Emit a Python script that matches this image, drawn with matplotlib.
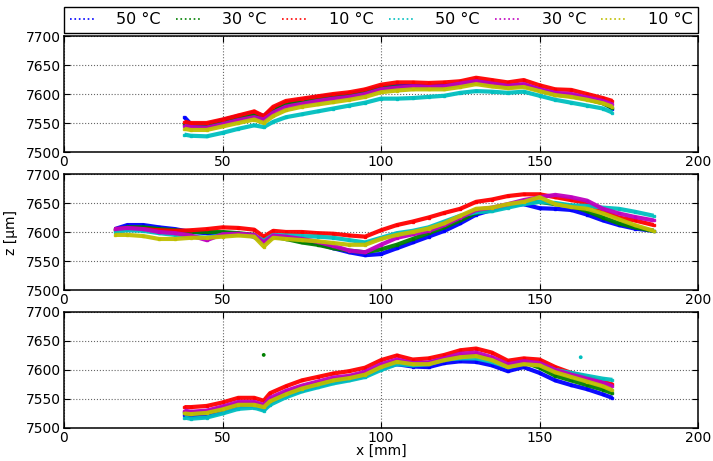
import matplotlib
matplotlib.use("Agg")
import matplotlib.pyplot as plt
from matplotlib.lines import Line2D

# ---------------- data ----------------
labels = ["50 °C", "30 °C", "10 °C", "50 °C", "30 °C", "10 °C"]
colors = ["#0000ff", "#008000", "#ff0000", "#00bfbf", "#bf00bf", "#bfbf00"]

# panel 1 (top)
x1 = [38, 40, 45, 50, 55, 60, 63, 66, 70, 75, 80, 85, 90, 95, 100, 105, 110, 115,
      120, 125, 130, 135, 140, 145, 150, 155, 160, 165, 170, 173]
blue1 = [7560, 7548, 7548, 7555, 7562, 7568, 7562, 7575, 7585, 7590, 7595, 7598, 7600, 7606, 7612,
         7614, 7614, 7614, 7615, 7617, 7622, 7618, 7614, 7616, 7608, 7600, 7598, 7592, 7585, 7575]
green1 = [7548, 7545, 7544, 7552, 7558, 7563, 7558, 7572, 7582, 7586, 7590, 7594, 7597, 7602, 7610,
          7612, 7612, 7611, 7612, 7616, 7620, 7616, 7612, 7614, 7606, 7599, 7596, 7591, 7584, 7576]
red1 = [7552, 7550, 7550, 7556, 7563, 7570, 7562, 7578, 7588, 7592, 7596, 7600, 7603, 7608, 7616,
        7620, 7620, 7619, 7620, 7622, 7628, 7624, 7620, 7624, 7615, 7608, 7607, 7600, 7593, 7588]
cyan1 = [7530, 7528, 7527, 7533, 7540, 7546, 7543, 7552, 7560, 7565, 7570, 7575, 7580, 7585, 7592,
         7592, 7593, 7595, 7597, 7602, 7605, 7604, 7602, 7604, 7597, 7590, 7585, 7580, 7575, 7568]
magenta1 = [7545, 7543, 7542, 7548, 7555, 7560, 7556, 7568, 7578, 7583, 7588, 7592, 7595, 7600, 7608,
            7611, 7613, 7612, 7613, 7618, 7622, 7618, 7614, 7617, 7608, 7602, 7600, 7594, 7588, 7582]
yellow1 = [7540, 7538, 7538, 7544, 7550, 7556, 7550, 7562, 7572, 7578, 7582, 7586, 7590, 7595, 7603,
           7606, 7608, 7608, 7608, 7612, 7617, 7613, 7610, 7612, 7605, 7598, 7595, 7590, 7584, 7578]

# panel 2 (middle)
x2 = [16, 20, 25, 30, 35, 40, 45, 50, 55, 60, 63, 66, 70, 75, 80, 85, 90, 95, 100, 105, 110, 115,
      120, 125, 130, 135, 140, 145, 150, 155, 160, 165, 170, 175, 180, 186]
blue2 = [7605, 7612, 7612, 7608, 7605, 7600, 7598, 7598, 7597, 7592, 7582, 7592, 7590, 7585, 7580, 7572,
         7565, 7560, 7562, 7572, 7582, 7592, 7602, 7615, 7630, 7638, 7645, 7648, 7641, 7640, 7638, 7630,
         7620, 7612, 7606, 7602]
green2 = [7603, 7608, 7608, 7605, 7603, 7600, 7600, 7600, 7598, 7595, 7582, 7592, 7588, 7582, 7578, 7572,
          7568, 7565, 7570, 7578, 7588, 7598, 7608, 7620, 7633, 7640, 7646, 7650, 7652, 7648, 7645, 7636,
          7625, 7615, 7608, 7602]
red2 = [7605, 7606, 7605, 7603, 7602, 7603, 7605, 7608, 7607, 7604, 7592, 7602, 7600, 7600, 7598, 7597,
        7594, 7592, 7603, 7612, 7618, 7625, 7633, 7640, 7652, 7656, 7662, 7665, 7665, 7660, 7655, 7650,
        7635, 7625, 7620, 7612]
cyan2 = [7600, 7603, 7602, 7598, 7595, 7592, 7590, 7595, 7596, 7594, 7585, 7595, 7594, 7593, 7592, 7590,
         7586, 7582, 7590, 7598, 7602, 7608, 7618, 7628, 7634, 7636, 7642, 7648, 7652, 7650, 7646, 7645,
         7642, 7640, 7635, 7628]
magenta2 = [7605, 7607, 7605, 7600, 7598, 7594, 7586, 7596, 7597, 7595, 7582, 7594, 7592, 7588, 7583, 7576,
            7568, 7565, 7578, 7590, 7596, 7602, 7612, 7625, 7638, 7642, 7648, 7655, 7660, 7664, 7660, 7654,
            7640, 7632, 7626, 7620]
yellow2 = [7595, 7595, 7593, 7588, 7588, 7590, 7590, 7592, 7594, 7592, 7575, 7590, 7588, 7586, 7584, 7581,
           7578, 7578, 7588, 7595, 7600, 7606, 7615, 7628, 7640, 7642, 7648, 7652, 7660, 7648, 7643, 7640,
           7632, 7622, 7612, 7602]

# panel 3 (bottom)
x3 = [38, 40, 45, 50, 55, 60, 63, 65, 70, 75, 80, 85, 90, 95, 100, 105, 110, 115,
      120, 125, 130, 135, 140, 145, 150, 155, 160, 165, 170, 173]
blue3 = [7522, 7520, 7520, 7528, 7537, 7538, 7532, 7544, 7556, 7565, 7572, 7579, 7584, 7590, 7603,
         7610, 7606, 7605, 7612, 7615, 7614, 7608, 7598, 7605, 7595, 7582, 7574, 7567, 7558, 7552]
green3 = [7528, 7527, 7528, 7535, 7542, 7542, 7538, 7548, 7560, 7570, 7576, 7583, 7588, 7594, 7606,
          7615, 7612, 7612, 7619, 7624, 7626, 7618, 7607, 7614, 7604, 7590, 7582, 7574, 7566, 7560]
red3 = [7536, 7536, 7538, 7544, 7552, 7552, 7547, 7560, 7572, 7582, 7588, 7594, 7598, 7604, 7617,
        7625, 7618, 7620, 7626, 7634, 7637, 7630, 7616, 7620, 7618, 7605, 7595, 7588, 7580, 7575]
cyan3 = [7518, 7516, 7518, 7525, 7533, 7535, 7530, 7540, 7553, 7563, 7570, 7577, 7582, 7588, 7600,
         7610, 7608, 7610, 7618, 7620, 7620, 7614, 7605, 7612, 7610, 7600, 7595, 7590, 7585, 7583]
magenta3 = [7530, 7528, 7530, 7537, 7545, 7545, 7540, 7552, 7564, 7573, 7580, 7587, 7590, 7597, 7610,
            7618, 7612, 7613, 7620, 7628, 7630, 7622, 7610, 7615, 7612, 7600, 7592, 7585, 7578, 7572]
yellow3 = [7525, 7524, 7526, 7532, 7540, 7540, 7536, 7546, 7558, 7568, 7575, 7582, 7586, 7592, 7605,
           7614, 7610, 7610, 7617, 7622, 7624, 7617, 7605, 7610, 7608, 7596, 7588, 7580, 7572, 7565]

# isolated stray points
stray_x = [63, 163]
stray_z = [7626, 7622]
stray_c = ["#008000", "#00bfbf"]

panels = [
    (x1, [blue1, green1, red1, cyan1, magenta1, yellow1]),
    (x2, [blue2, green2, red2, cyan2, magenta2, yellow2]),
    (x3, [blue3, green3, red3, cyan3, magenta3, yellow3]),
]

xticks = [0, 50, 100, 150, 200]
yticks = [7500, 7550, 7600, 7650, 7700]

# ---------------- figure ----------------
plt.rcParams["font.family"] = ["DejaVu Sans"]
fig = plt.figure(figsize=(7.13, 4.61), dpi=100)

L, W = 64 / 713, (698 - 64) / 713
tops = [36, 174, 312]
h_px = 116
axes = []
for i, (xs, series) in enumerate(panels):
    bottom = 1 - (tops[i] + h_px) / 461
    ax = fig.add_axes([L, bottom, W, h_px / 461])
    axes.append(ax)
    for ys, c in zip(series, colors):
        ax.plot(xs, ys, color=c, lw=3.0, solid_capstyle="butt", alpha=0.95)
        ax.plot(xs, ys, color=c, lw=0, marker="s", ms=1.6, alpha=0.9)
    ax.set_xlim(0, 200)
    ax.set_ylim(7500, 7700)
    ax.set_xticks(xticks)
    ax.set_yticks(yticks)
    ax.grid(True, color="#666666", linestyle=":", linewidth=0.8)
    ax.tick_params(direction="in", top=True, right=True, labelsize=10, length=4, pad=2)
    for s in ax.spines.values():
        s.set_linewidth(1.1)

axes[2].scatter(stray_x, stray_z, c=stray_c, s=3, zorder=3)
axes[1].set_ylabel("z [µm]", fontsize=10, labelpad=6)
axes[2].set_xlabel("x [mm]", fontsize=10, labelpad=-1)

handles = [Line2D([], [], color=c, linestyle=":", lw=1.2) for c in colors]
fig.legend(handles, labels, loc="lower left", ncol=6, mode="expand",
           bbox_to_anchor=(L, 1 - 33 / 461, W, 28 / 461), borderaxespad=0,
           fontsize=11.5, handlelength=1.6, handletextpad=1.3, columnspacing=1.0,
           borderpad=0.35, frameon=True, fancybox=False, edgecolor="black",
           framealpha=1)

fig.savefig("out.png", dpi=100)
